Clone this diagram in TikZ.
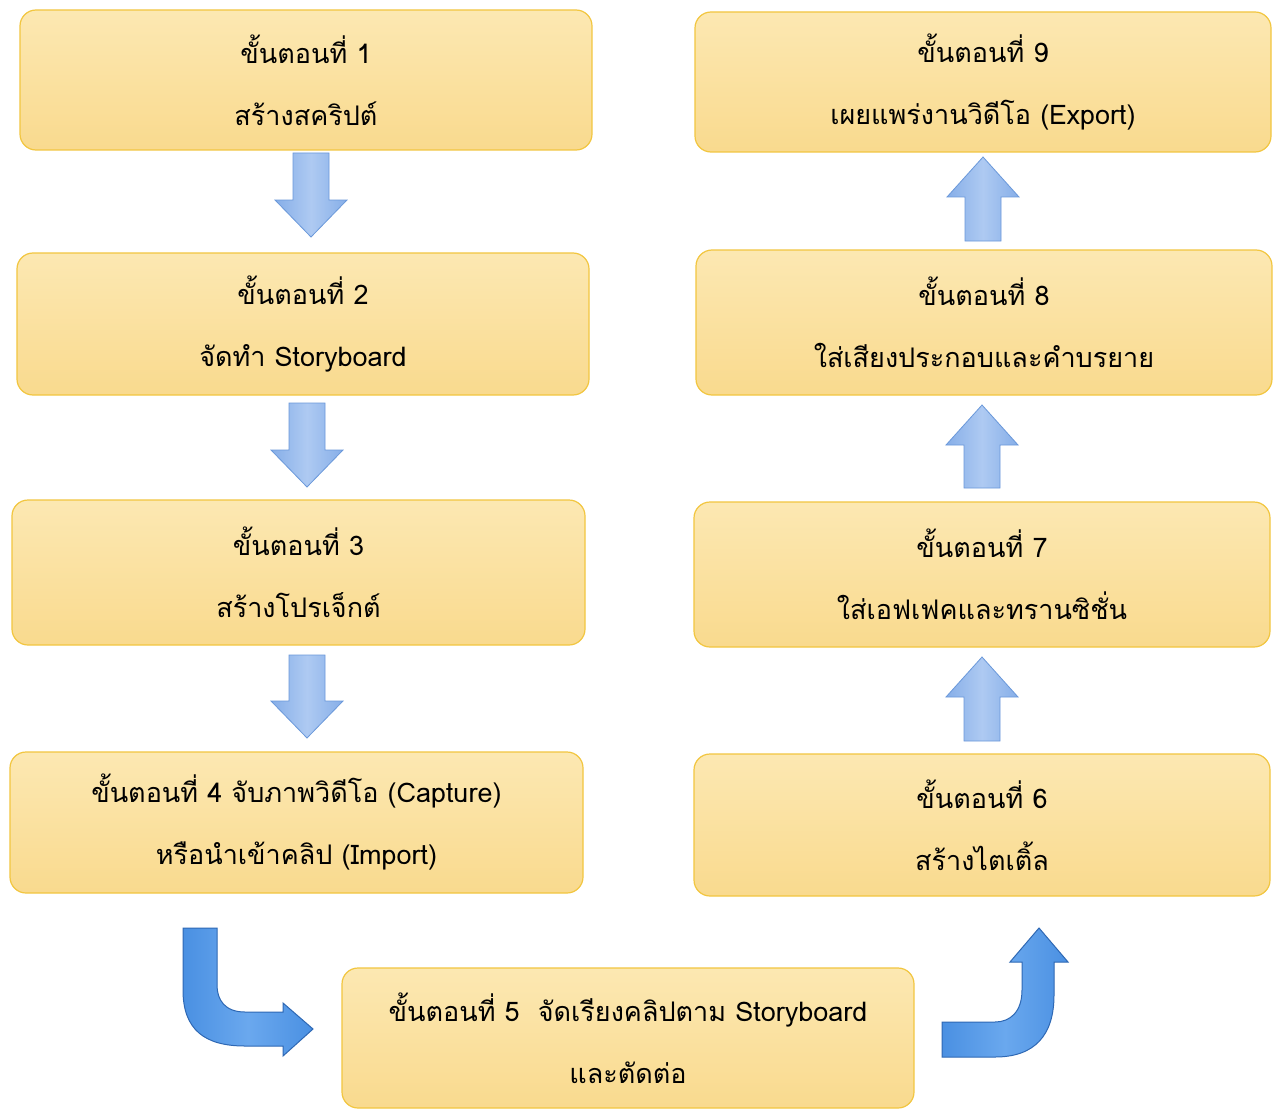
\documentclass[tikz,border=0pt]{standalone}
\usepackage{fontspec}
\newfontfamily\thaifont[Script=Thai]{Loma}
\usetikzlibrary{calc}
\definecolor{boxtop}{HTML}{FCE8B2}
\definecolor{boxbot}{HTML}{F9DA8E}
\definecolor{boxline}{HTML}{F2C640}
\definecolor{arrside}{HTML}{86AEE8}
\definecolor{arrmid}{HTML}{AECAF2}
\definecolor{arrline}{HTML}{6A98DA}
\definecolor{carrfill}{HTML}{4A90E2}
\definecolor{carrmid}{HTML}{6AA8EE}
\definecolor{carrline}{HTML}{2E68B4}
\newcommand\downblock[3]{%
  \draw[blockarr] (#1-18,#2) -- (#1+18,#2) -- (#1+18,#3-37) -- (#1+36,#3-37) -- (#1,#3) -- (#1-36,#3-37) -- (#1-18,#3-37) -- cycle;}
\newcommand\upblock[3]{%
  \draw[blockarr] (#1-18,#3) -- (#1-18,#2+40) -- (#1-36,#2+40) -- (#1,#2) -- (#1+36,#2+40) -- (#1+18,#2+40) -- (#1+18,#3) -- cycle;}
\begin{document}
\begin{tikzpicture}[x=1pt,y=-1pt,
  stepbox/.style={draw=boxline, line width=1.2pt, rounded corners=16pt,
    top color=boxtop, bottom color=boxbot, minimum width=572pt,
    minimum height=140pt, align=center, inner sep=0pt,
    font=\thaifont\fontsize{27}{62}\selectfont},
  blockarr/.style={draw=arrline, line width=0.8pt, left color=arrside,
    right color=arrside, middle color=arrmid},
  curvearr/.style={draw=carrline, line width=1pt, left color=carrfill,
    right color=carrfill, middle color=carrmid}]
\useasboundingbox (0,0) rectangle (1276,1110);
\fill[white] (0,0) rectangle (1276,1110);

\node[stepbox, minimum height=140pt] (b1) at (306,80) {ขั้นตอนที่ 1\\สร้างสคริปต์};
\node[stepbox, minimum height=142pt] (b2) at (303,324) {ขั้นตอนที่ 2\\จัดทำ Storyboard};
\node[stepbox, minimum height=145pt, minimum width=573pt] (b3) at (298.5,572.5) {ขั้นตอนที่ 3\\สร้างโปรเจ็กต์};
\node[stepbox, minimum height=141pt, minimum width=573pt] (b4) at (296.5,822.5) {ขั้นตอนที่ 4 จับภาพวิดีโอ (Capture)\\หรือนำเข้าคลิป (Import)};
\node[stepbox, minimum height=140pt] (b5) at (628,1038) {ขั้นตอนที่ 5\ \ จัดเรียงคลิปตาม Storyboard\\และตัดต่อ};
\node[stepbox, minimum height=142pt, minimum width=576pt] (b6) at (982,825) {ขั้นตอนที่ 6\\สร้างไตเติ้ล};
\node[stepbox, minimum height=145pt, minimum width=576pt] (b7) at (982,574.5) {ขั้นตอนที่ 7\\ใส่เอฟเฟคและทรานซิชั่น};
\node[stepbox, minimum height=145pt, minimum width=576pt] (b8) at (984,322.5) {ขั้นตอนที่ 8\\ใส่เสียงประกอบและคำบรยาย};
\node[stepbox, minimum height=140pt, minimum width=576pt] (b9) at (983,82) {ขั้นตอนที่ 9\\เผยแพร่งานวิดีโอ (Export)};

\downblock{311}{153}{237}
\downblock{307}{403}{487}
\downblock{307}{655}{738}
\upblock{982}{657}{741}
\upblock{982}{405}{488}
\upblock{983}{157}{241}

\draw[curvearr] (183,928) -- (183,990) .. controls (183,1030) and (205,1046) .. (245,1046)
  -- (283,1046) -- (283,1056) -- (313,1029) -- (283,1003) -- (283,1012) -- (245,1012)
  .. controls (225,1012) and (217,1000) .. (217,985) -- (217,928) -- cycle;
\draw[curvearr] (942,1057) -- (995,1057) .. controls (1035,1057) and (1054,1035) .. (1054,995)
  -- (1054,962) -- (1068,962) -- (1039,928) -- (1010,962) -- (1022,962) -- (1022,990)
  .. controls (1022,1012) and (1010,1022) .. (995,1022) -- (942,1022) -- cycle;
\end{tikzpicture}
\end{document}
